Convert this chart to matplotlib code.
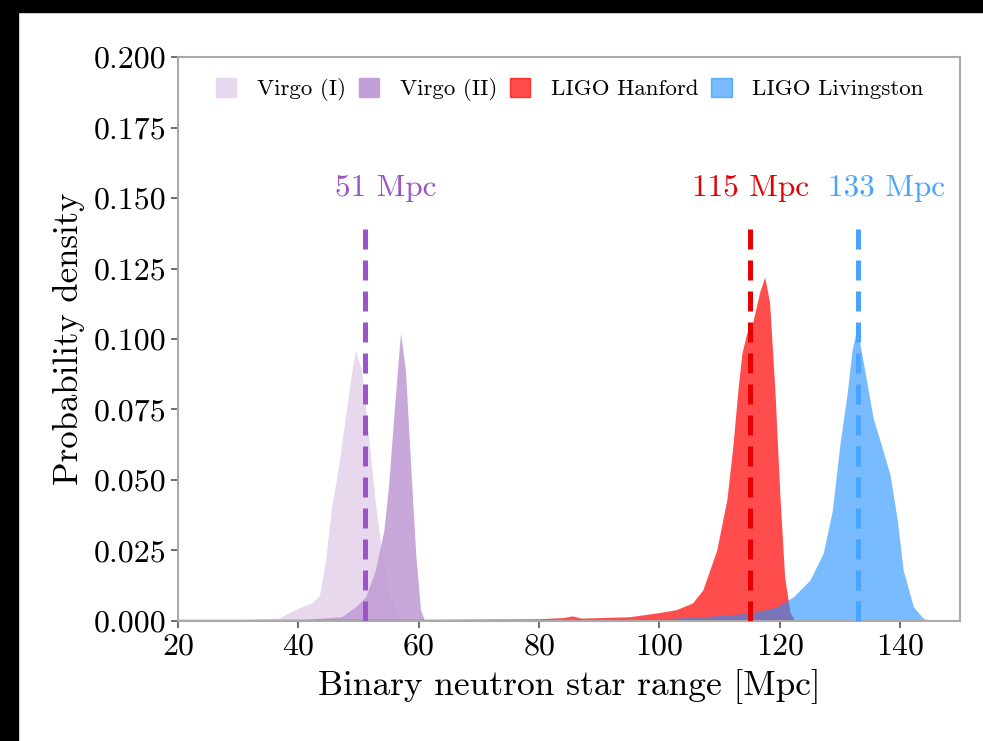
import numpy as np
import matplotlib
matplotlib.use("Agg")
import matplotlib.pyplot as plt
from matplotlib.patches import Rectangle, Patch

plt.rcParams["font.family"] = "cmr10"
plt.rcParams["mathtext.fontset"] = "cm"
plt.rcParams["axes.formatter.use_mathtext"] = True

# Densidades (rango en Mpc, densidad)
virgo1_x = [20, 30, 36.7, 40.5, 42.2, 43.5, 44.5, 45.5, 46.7, 47.8, 48.7, 49.5,
            50.5, 51.7, 52.8, 53.9, 55.0, 56.7, 58.0, 150]
virgo1_y = [0.0003, 0.0004, 0.001, 0.005, 0.0064, 0.009, 0.021, 0.040, 0.055, 0.072,
            0.086, 0.096, 0.089, 0.065, 0.042, 0.024, 0.010, 0.0015, 0.0, 0.0]

virgo2_x = [20, 40, 47.2, 49.5, 51.2, 52.8, 54.2, 55.0, 55.8, 56.7, 57.0, 57.8,
            58.7, 59.5, 60.3, 61.0, 150]
virgo2_y = [0.0003, 0.0004, 0.0015, 0.005, 0.0086, 0.018, 0.032, 0.048, 0.071, 0.095,
            0.102, 0.089, 0.054, 0.024, 0.004, 0.0, 0.0]

hanford_x = [20, 60, 80, 84, 85.5, 87, 95, 100, 102.8, 105.5, 107.2, 109.5, 111.2,
             112.2, 113.0, 113.7, 114.5, 115.5, 116.7, 117.5, 118.3, 119.2, 120.0,
             120.8, 121.7, 122.5, 150]
hanford_y = [0.0006, 0.0006, 0.0008, 0.0012, 0.0018, 0.001, 0.0015, 0.003, 0.004, 0.0064,
             0.011, 0.025, 0.043, 0.062, 0.081, 0.095, 0.102, 0.106, 0.117, 0.122,
             0.113, 0.081, 0.045, 0.0156, 0.003, 0.0, 0.0]

livingston_x = [20, 90, 100, 111.0, 115.5, 119.5, 122.2, 125.0, 127.2, 128.7, 130.0,
                131.2, 132.0, 132.8, 133.8, 135.5, 137.2, 138.3, 139.5, 140.5, 142.2,
                143.8, 145, 150]
livingston_y = [0.0, 0.0002, 0.0007, 0.002, 0.003, 0.005, 0.0085, 0.0145, 0.024, 0.039,
                0.063, 0.081, 0.096, 0.104, 0.0925, 0.072, 0.060, 0.052, 0.036, 0.018,
                0.005, 0.001, 0.0, 0.0]

medianas = [51, 115, 133]
etiquetas = ["51 Mpc", "115 Mpc", "133 Mpc"]
etiqueta_x = [54.5, 115.2, 137.8]

c_v1 = "#e6d6ee"
c_v2 = "#c29ed6"
c_h = "#ff0000"
c_l = "#1e90ff"
c_linea = ["#9c55c8", "#e80000", "#4aa3ff"]

fig = plt.figure(figsize=(9.83, 7.41), dpi=100)
ax = fig.add_axes([0.181, 0.162, 0.796, 0.761])

ax.fill_between(virgo1_x, virgo1_y, color=c_v1, lw=0, alpha=0.95)
ax.fill_between(virgo2_x, virgo2_y, color=c_v2, lw=0, alpha=0.9)
ax.fill_between(hanford_x, hanford_y, color=c_h, lw=0, alpha=0.7)
ax.fill_between(livingston_x, livingston_y, color=c_l, lw=0, alpha=0.6)

for m, col in zip(medianas, c_linea):
    ax.plot([m, m], [0, 0.14], color=col, lw=3.6, dashes=(4, 2.2), zorder=5)

for tx, lab, col in zip(etiqueta_x, etiquetas, c_linea):
    ax.text(tx, 0.1535, lab, color=col, fontsize=22.5, ha="center", va="center")

ax.set_xlim(20, 150)
ax.set_ylim(0, 0.2)
ax.set_xticks([20, 40, 60, 80, 100, 120, 140])
ax.set_yticks(np.arange(0, 0.201, 0.025))
ax.set_yticklabels(["%.3f" % v for v in np.arange(0, 0.201, 0.025)])
ax.tick_params(labelsize=23, color="#555555", length=5, width=1.2)
for s in ax.spines.values():
    s.set_color("#aaaaaa")
    s.set_linewidth(1.5)

ax.set_xlabel("Binary neutron star range [Mpc]", fontsize=25.5, labelpad=6)
ax.set_ylabel("Probability density", fontsize=25, labelpad=6)

handles = [Patch(color=c_v1), Patch(color=c_v2), Patch(color=c_h, alpha=0.7),
           Patch(color=c_l, alpha=0.6)]
ax.legend(handles, ["Virgo (I)", "Virgo (II)", "LIGO Hanford", "LIGO Livingston"],
          loc="upper left", ncol=4, frameon=False, fontsize=16.5,
          handlelength=0.9, handleheight=0.9, columnspacing=0.55, handletextpad=0.9,
          bbox_to_anchor=(0.022, 1.0))

# borde negro de la captura original
fig.add_artist(Rectangle((0, 1 - 12 / 741), 1, 12 / 741, transform=fig.transFigure,
                         color="black", zorder=10))
fig.add_artist(Rectangle((0, 0), 18 / 983, 1, transform=fig.transFigure,
                         color="black", zorder=10))

fig.savefig("out.png", dpi=100)
